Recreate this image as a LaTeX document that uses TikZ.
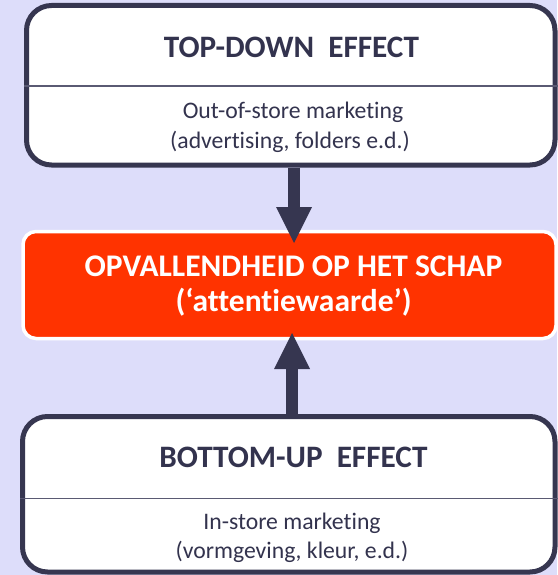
\documentclass[tikz,border=0pt]{standalone}
\usepackage{fontspec}
\setmainfont{Carlito}[Ligatures=NoCommon]
\usetikzlibrary{arrows.meta}
\definecolor{bg}{RGB}{221,221,250}
\definecolor{navy}{RGB}{54,54,80}
\definecolor{txt}{RGB}{51,51,78}
\definecolor{redbox}{RGB}{255,51,0}
\definecolor{divcol}{RGB}{90,90,115}
\begin{document}
\begin{tikzpicture}[x=1pt,y=-1pt,
  effectbox/.style={draw=navy, line width=5pt, fill=white, rounded corners=25pt, inner sep=0pt},
  focusbox/.style={draw=white, line width=3.5pt, fill=redbox, rounded corners=13pt, inner sep=0pt},
  dividerline/.style={draw=divcol, line width=1.5pt},
  titletext/.style={text=txt, font=\fontsize{31.2}{36}\selectfont\bfseries, anchor=base, inner sep=0pt},
  bodytext/.style={text=txt, font=\fontsize{23.7}{28}\selectfont, anchor=base, inner sep=0pt},
  focustext/.style={text=white, font=\fontsize{31.5}{36}\selectfont\bfseries, anchor=base, inner sep=0pt},
  bigarrow/.style={draw=navy, line width=12pt, -{Triangle[width=36pt,length=36pt,line width=0pt]}}
]
\fill[bg] (0,0) rectangle (557,575);
\useasboundingbox (0,0) rectangle (557,575);

% top box
\node[effectbox, minimum width=528.5pt, minimum height=159.5pt] (top) at (290.75,85.25) {};
\coordinate (d1) at (0,86);
\draw[dividerline] (top.west |- d1) -- (top.east |- d1);
\node[titletext] (toptitle) at (291.5,58) {TOP-DOWN~~EFFECT};
\node[bodytext] (topbody1) at (293,118) {Out-of-store marketing};
\node[bodytext] (topbody2) at (290,148) {(advertising, folders e.d.)};

% bottom box
\node[effectbox, minimum width=532.5pt, minimum height=155.5pt] (bottom) at (288.75,494.25) {};
\coordinate (d2) at (0,498.3);
\draw[dividerline] (bottom.west |- d2) -- (bottom.east |- d2);
\node[titletext] (bottitle) at (293.5,467.7) {BOTTOM-UP~~EFFECT};
\node[bodytext] (botbody1) at (292,529) {In-store marketing};
\node[bodytext] (botbody2) at (292,558) {(vormgeving, kleur, e.d.)};

% focus box
\node[focusbox, minimum width=533pt, minimum height=107pt] (focus) at (289.5,285) {};
\node[focustext] (focus1) at (293.5,276.7) {OPVALLENDHEID OP HET SCHAP};
\node[focustext] (focus2) at (293.5,311.7) {(‘attentiewaarde’)};

% arrows
\coordinate (a1) at (294,243);
\draw[bigarrow] (top.south -| a1) -- (a1);
\coordinate (a2) at (292,333);
\draw[bigarrow] (bottom.north -| a2) -- (a2);
\end{tikzpicture}
\end{document}
